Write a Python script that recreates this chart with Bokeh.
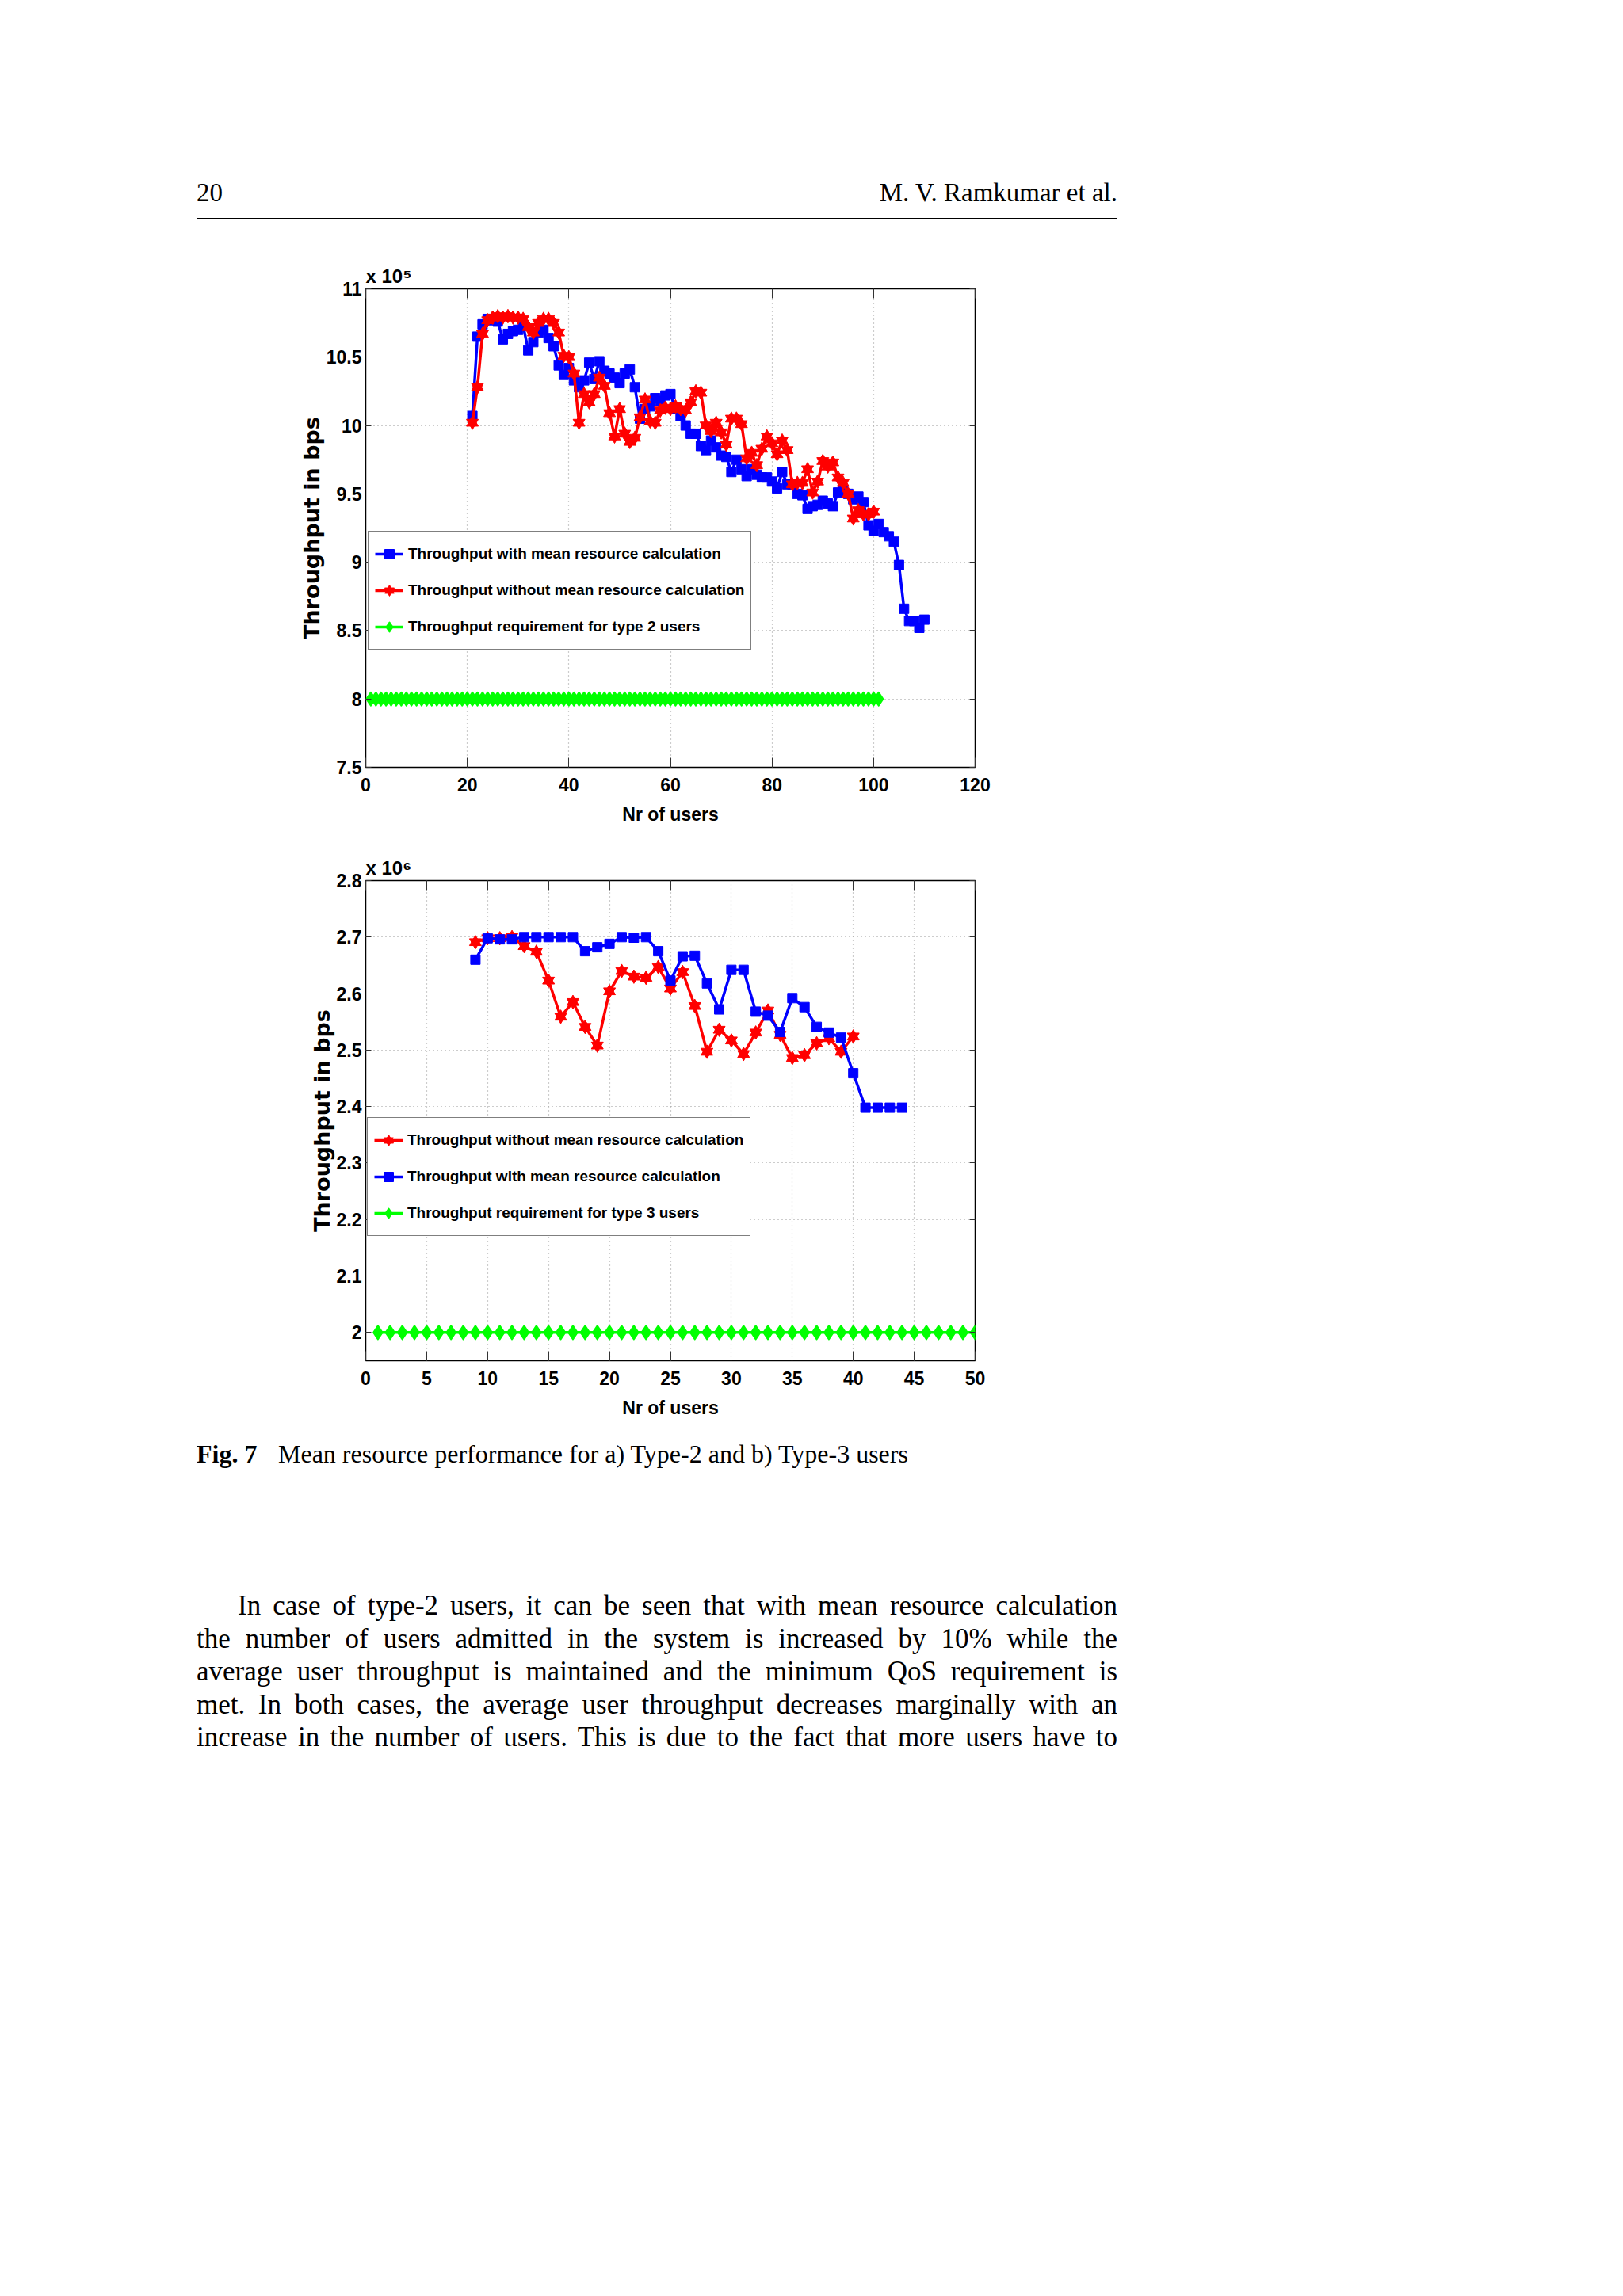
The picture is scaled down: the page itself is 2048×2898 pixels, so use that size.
from bokeh.plotting import figure
from bokeh.models import (Range1d, LinearAxis, FixedTicker, Legend, LegendItem,
                          CustomJSTickFormatter, Div)
from bokeh.layouts import column
from bokeh.embed import file_html
from bokeh.resources import INLINE

# ---------------- data: Fig. 7a (type-2 users), values in units of 1e5 bps
t2_users_with = list(range(21, 111))
t2_with = [10.07, 10.65, 10.74, 10.78, 10.77, 10.76, 10.63, 10.67, 10.69, 10.70,
           10.73, 10.55, 10.61, 10.68, 10.70, 10.64, 10.58, 10.44, 10.37, 10.42,
           10.33, 10.28, 10.33, 10.46, 10.34, 10.47, 10.40, 10.38, 10.35, 10.31,
           10.38, 10.41, 10.28, 10.05, 10.12, 10.14, 10.20, 10.18, 10.22, 10.23,
           10.12, 10.07, 10.00, 9.94, 9.94, 9.85, 9.82, 9.89, 9.84, 9.78,
           9.77, 9.66, 9.75, 9.68, 9.63, 9.68, 9.64, 9.62, 9.62, 9.59,
           9.54, 9.66, 9.57, 9.57, 9.50, 9.49, 9.39, 9.41, 9.42, 9.45,
           9.43, 9.41, 9.51, 9.53, 9.50, 9.46, 9.48, 9.44, 9.27, 9.23,
           9.28, 9.22, 9.19, 9.15, 8.98, 8.66, 8.57, 8.57, 8.52, 8.58]
t2_users_without = list(range(21, 101))
t2_without = [10.02, 10.28, 10.67, 10.77, 10.79, 10.80, 10.79, 10.80, 10.79, 10.79,
              10.78, 10.72, 10.68, 10.75, 10.78, 10.78, 10.75, 10.68, 10.51, 10.50,
              10.38, 10.02, 10.23, 10.17, 10.23, 10.35, 10.29, 10.09, 9.92, 10.12,
              9.94, 9.88, 9.91, 10.06, 10.19, 10.03, 10.02, 10.11, 10.13, 10.12,
              10.14, 10.12, 10.11, 10.17, 10.25, 10.24, 10.00, 9.96, 10.02, 9.95,
              9.86, 10.05, 10.05, 10.01, 9.76, 9.80, 9.71, 9.83, 9.92, 9.87,
              9.79, 9.89, 9.82, 9.57, 9.58, 9.58, 9.68, 9.51, 9.59, 9.74,
              9.70, 9.73, 9.62, 9.58, 9.50, 9.32, 9.38, 9.35, 9.35, 9.37]
t2_users_req = list(range(1, 102))
t2_req = [8.0] * len(t2_users_req)

# ---------------- data: Fig. 7b (type-3 users), values in units of 1e6 bps
t3_users_without = list(range(9, 41))
t3_without = [2.691, 2.698, 2.698, 2.700, 2.684, 2.674, 2.623, 2.559, 2.585, 2.541,
              2.508, 2.604, 2.640, 2.630, 2.628, 2.647, 2.609, 2.638, 2.578, 2.497,
              2.536, 2.517, 2.493, 2.531, 2.570, 2.527, 2.486, 2.491, 2.512, 2.521,
              2.497, 2.524]
t3_users_with = list(range(9, 45))
t3_with = [2.660, 2.698, 2.696, 2.696, 2.700, 2.700, 2.700, 2.700, 2.700, 2.675,
           2.682, 2.688, 2.700, 2.699, 2.700, 2.675, 2.623, 2.666, 2.667, 2.618,
           2.572, 2.642, 2.642, 2.568, 2.561, 2.532, 2.592, 2.576, 2.541, 2.531,
           2.522, 2.459, 2.398, 2.398, 2.398, 2.398]
t3_users_req = list(range(1, 51))
t3_req = [2.0] * len(t3_users_req)

# ---------------- ticks / labels
t2_xticks = [0, 20, 40, 60, 80, 100, 120]
t2_yticks = [7.5, 8, 8.5, 9, 9.5, 10, 10.5, 11]
t2_ylabels = ["7.5", "8", "8.5", "9", "9.5", "10", "10.5", "11"]
t3_xticks = [0, 5, 10, 15, 20, 25, 30, 35, 40, 45, 50]
t3_yticks = [2, 2.1, 2.2, 2.3, 2.4, 2.5, 2.6, 2.7, 2.8]
t3_ylabels = ["2", "2.1", "2.2", "2.3", "2.4", "2.5", "2.6", "2.7", "2.8"]
t2_exponent = "x 10\u2075"
t3_exponent = "x 10\u2076"

lbl_with = "Throughput with mean resource calculation"
lbl_without = "Throughput without mean resource calculation"
lbl_req2 = "Throughput requirement for type 2 users"
lbl_req3 = "Throughput requirement for type 3 users"

header_left = "20"
header_right = "M. V. Ramkumar et al."
caption_bold = "Fig. 7"
caption_rest = "Mean resource performance for a) Type-2 and b) Type-3 users"
paragraph = [
    "In case of type-2 users, it can be seen that with mean resource calculation",
    "the number of users admitted in the system is increased by 10% while the",
    "average user throughput is maintained and the minimum QoS requirement is",
    "met. In both cases, the average user throughput decreases marginally with an",
    "increase in the number of users. This is due to the fact that more users have to",
]

# ---------------- style
W = 1500
BLUE = "#0000ff"
RED = "#ff0000"
GREEN = "#00ff00"
SANS = "Liberation Sans"
SERIF = "'Liberation Serif', serif"
LW = 3.5


def chart(h, top, bottom, xr, yr, xticks, yticks, ylabels, exp_text):
    p = figure(width=W, height=h, x_range=Range1d(*xr), y_range=Range1d(*yr),
               output_backend="svg", toolbar_location=None,
               min_border_left=461, min_border_right=270,
               min_border_top=top, min_border_bottom=bottom, margin=0)
    p.background_fill_color = "white"
    p.border_fill_color = "white"
    p.outline_line_color = "black"
    p.outline_line_width = 1.5

    p.xaxis.ticker = FixedTicker(ticks=xticks)
    p.yaxis.ticker = FixedTicker(ticks=yticks)
    p.yaxis.major_label_overrides = {t: s for t, s in zip(yticks, ylabels)}
    for ax, tin in ((p.xaxis, 12), (p.yaxis, 7)):
        ax.major_tick_in = tin
        ax.major_tick_out = 0
        ax.major_tick_line_color = "#333333"
        ax.minor_tick_line_color = None
        ax.axis_line_color = None
        ax.major_label_text_font = SANS
        ax.major_label_text_font_style = "bold"
        ax.major_label_text_font_size = "23px"
        ax.major_label_text_color = "black"
        ax.axis_label_text_font_style = "bold"
        ax.axis_label_text_color = "black"
    p.xaxis.major_label_standoff = 13
    p.yaxis.major_label_standoff = 5
    p.xaxis.axis_label = "Nr of users"
    p.xaxis.axis_label_text_font = SANS
    p.xaxis.axis_label_text_font_size = "23px"
    p.xaxis.axis_label_standoff = 13
    p.yaxis.axis_label = "Throughput in bps"
    p.yaxis.axis_label_text_font = "DejaVu Sans"
    p.yaxis.axis_label_text_font_size = "27px"
    p.yaxis.axis_label_standoff = 0

    empty = CustomJSTickFormatter(code="return ''")
    top_ax = LinearAxis(ticker=FixedTicker(ticks=xticks), formatter=empty,
                        major_tick_in=12, major_tick_out=0, minor_tick_line_color=None,
                        axis_line_color=None, major_tick_line_color="#333333",
                        major_label_text_font_size="1px", major_label_standoff=0)
    right_ax = LinearAxis(ticker=FixedTicker(ticks=yticks), formatter=empty,
                          major_tick_in=7, major_tick_out=0, minor_tick_line_color=None,
                          axis_line_color=None, major_tick_line_color="#333333",
                          major_label_text_font_size="1px", major_label_standoff=0)
    p.add_layout(top_ax, "above")
    p.add_layout(right_ax, "right")

    for g in (p.xgrid, p.ygrid):
        g.grid_line_color = "#9a9a9a"
        g.grid_line_dash = "1 4"
        g.grid_line_width = 1.2

    p.title.text = exp_text
    p.title.align = "left"
    p.title.text_font = SANS
    p.title.text_font_style = "bold"
    p.title.text_font_size = "24px"
    p.title.text_color = "black"
    p.title.standoff = 5
    p.title.offset = 0
    return p


def series_square(p, x, y):
    l = p.line(x, y, line_color=BLUE, line_width=LW)
    m = p.scatter(x, y, marker="square", size=12, fill_color=BLUE, line_color=BLUE)
    return [l, m]


def series_star(p, x, y):
    l = p.line(x, y, line_color=RED, line_width=LW)
    m1 = p.scatter(x, y, marker="triangle", size=15, fill_color=RED, line_color=RED)
    m2 = p.scatter(x, y, marker="inverted_triangle", size=15, fill_color=RED, line_color=RED)
    return [l, m1, m2]


def series_req(p, x, y):
    l = p.line(x, y, line_color=GREEN, line_width=LW)
    m = p.scatter(x, y, marker="diamond", size=17, fill_color=GREEN, line_color=GREEN,
                  line_width=2, line_join="round")
    return [l, m]


def add_legend(p, items, loc):
    leg = Legend(items=[LegendItem(label=t, renderers=r) for t, r in items],
                 location=loc, label_text_font=SANS, label_text_font_style="bold",
                 label_text_font_size="19px", label_text_color="black",
                 glyph_width=36, glyph_height=30, label_height=40, spacing=6,
                 padding=8, margin=0, label_standoff=6,
                 border_line_color="black", border_line_width=1.5,
                 background_fill_color="white", background_fill_alpha=1.0)
    p.add_layout(leg)


def abs_text(txt, left, top, size, width=None, justify=False, bold=False, align="left"):
    st = (f"position:absolute;left:{left}px;top:{top}px;font-size:{size}px;"
          f"line-height:1;white-space:nowrap;text-align:{align};margin:0;padding:0;")
    if width is not None:
        st += f"width:{width}px;"
    if justify:
        st += "white-space:normal;text-align:justify;text-align-last:justify;"
    if bold:
        st += "font-weight:bold;"
    return f'<div style="{st}">{txt}</div>'


def page_block(h, inner):
    return Div(text=(f'<div style="position:relative;width:{W}px;height:{h}px;'
                     f'margin:0;padding:0;font-family:{SERIF};color:#000;">{inner}</div>'),
               width=W, height=h, margin=0)


# ---------------- header
hdr_inner = (abs_text(header_left, 248, 227, 33)
             + abs_text(header_right, 248, 227, 33, width=1162, align="right")
             + '<div style="position:absolute;left:248px;top:275px;width:1162px;'
               'height:2px;background:#000;"></div>')
hdr = page_block(300, hdr_inner)

# ---------------- chart a
p1 = chart(762, 64, 94, (0, 120), (7.5, 11), t2_xticks, t2_yticks, t2_ylabels, t2_exponent)
r_with = series_square(p1, t2_users_with, t2_with)
r_without = series_star(p1, t2_users_without, t2_without)
r_req = series_req(p1, t2_users_req, t2_req)
add_legend(p1, [(lbl_with, r_with), (lbl_without, r_without), (lbl_req2, r_req)], (3, 148))

# ---------------- chart b
p2 = chart(738, 49, 83, (0, 50), (1.95, 2.8), t3_xticks, t3_yticks, t3_ylabels, t3_exponent)
r3_without = series_star(p2, t3_users_without, t3_without)
r3_with = series_square(p2, t3_users_with, t3_with)
r3_req = series_req(p2, t3_users_req, t3_req)
add_legend(p2, [(lbl_without, r3_without), (lbl_with, r3_with), (lbl_req3, r3_req)], (2, 157))

# ---------------- caption and text
line_left = [300, 248, 248, 248, 248]
line_width = [1110, 1162, 1162, 1162, 1162]
line_top = [209, 251, 292, 334, 375]
ftr_inner = abs_text(caption_bold, 248, 19, 32, bold=True) + abs_text(caption_rest, 351, 19, 32)
for t, l, w, tp in zip(paragraph, line_left, line_width, line_top):
    ftr_inner += abs_text(t, l, tp, 35, width=w, justify=True)
ftr = page_block(1098, ftr_inner)

page = column(hdr, p1, p2, ftr, spacing=0)
open("out.html", "w").write(file_html(page, INLINE))
